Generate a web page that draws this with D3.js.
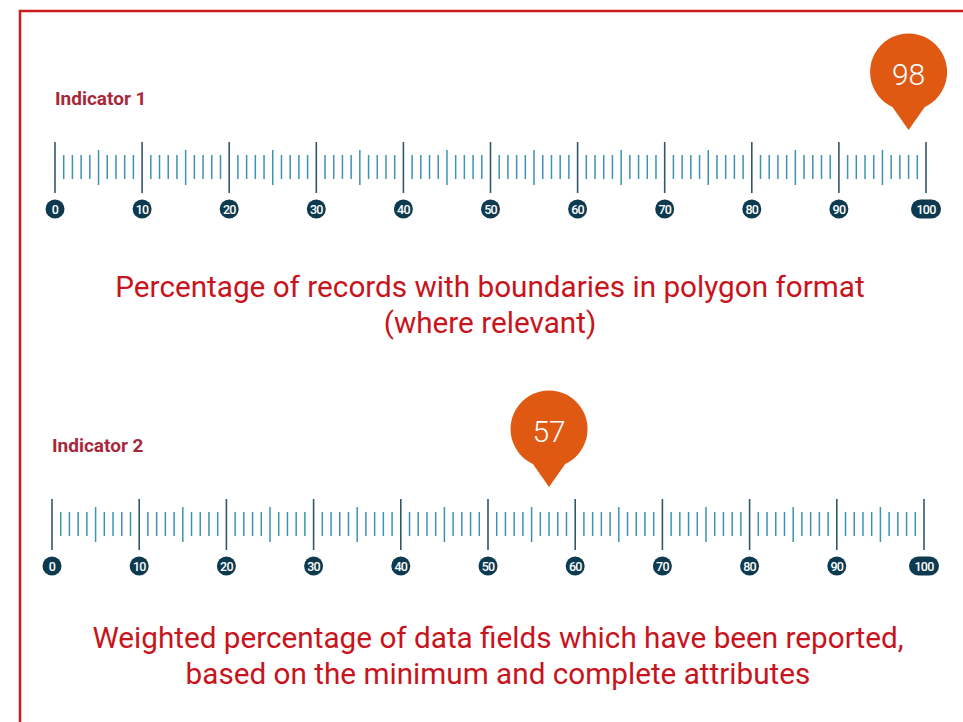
<!DOCTYPE html>
<html>
<head>
<meta charset="utf-8">
<script src="https://cdn.jsdelivr.net/npm/d3@7"></script>
<style>
  body { margin: 0; background: #fff; }
  svg { display: block; font-family: Roboto, "Noto Sans", sans-serif; }
</style>
</head>
<body>
<svg id="chart" width="963" height="722"></svg>
<script>
var indicators = ['Indicator 1', 'Indicator 2'];
var values = [98, 57];
var titles = [
  ['Percentage of records with boundaries in polygon format', '(where relevant)'],
  ['Weighted percentage of data fields which have been reported,', 'based on the minimum and complete attributes']
];
var tickLabels = [0, 10, 20, 30, 40, 50, 60, 70, 80, 90, 100];

var svg = d3.select('#chart');

// frame, runs off right and bottom
svg.append('rect')
  .attr('x', 20).attr('y', 11)
  .attr('width', 1000).attr('height', 800)
  .attr('fill', 'none')
  .attr('stroke', '#cc1a1f')
  .attr('stroke-width', 2.5);

var rows = [
  { x0: 55, x1: 926, top: 142, label: 98, capY: 297, capX: 490 },
  { x0: 52, x1: 924, top: 499, label: 445, capY: 648, capX: 498 }
];

rows.forEach(function(r, i) {
  var x = d3.scaleLinear().domain([0, 100]).range([r.x0, r.x1]);
  var g = svg.append('g');

  g.append('text')
    .attr('x', r.x0).attr('y', r.label + 7)
    .attr('fill', '#a8283a')
    .attr('font-weight', 'bold')
    .attr('font-size', 19)
    .text(indicators[i]);

  // ruler ticks
  var t = r.top;
  g.selectAll('line.tick')
    .data(d3.range(0, 101))
    .enter().append('line')
    .attr('x1', function(d) { return x(d); })
    .attr('x2', function(d) { return x(d); })
    .attr('y1', function(d) { return d % 10 == 0 ? t : (d % 5 == 0 ? t + 8 : t + 13); })
    .attr('y2', function(d) { return d % 10 == 0 ? t + 51 : (d % 5 == 0 ? t + 43 : t + 37); })
    .attr('stroke', function(d) { return d % 10 == 0 ? '#34566a' : '#3b93b6'; })
    .attr('stroke-width', function(d) { return d % 10 == 0 ? 1.6 : 1.5; });

  // tick badges
  var badge = g.selectAll('g.badge')
    .data(tickLabels)
    .enter().append('g')
    .attr('transform', function(d) { return 'translate(' + x(d) + ',' + (t + 67) + ')'; });
  badge.append('rect')
    .attr('x', function(d) { return d == 100 ? -15 : -9.5; })
    .attr('y', -9.5)
    .attr('width', function(d) { return d == 100 ? 30 : 19; })
    .attr('height', 19)
    .attr('rx', 9.5)
    .attr('fill', '#0d3a4e');
  badge.append('text')
    .attr('text-anchor', 'middle')
    .attr('dy', '0.36em')
    .attr('fill', '#fff')
    .attr('font-size', 12.5)
    .attr('font-weight', 500)
    .attr('letter-spacing', -0.8)
    .text(function(d) { return d; });

  // pin marker
  var px = x(values[i]), tip = t - 12, cy = tip - 58, rad = 38.5;
  var a = Math.asin(0.42);
  var pin = g.append('g');
  pin.append('path')
    .attr('d', 'M' + (px - rad * Math.sin(a)) + ',' + (cy + rad * Math.cos(a)) +
      ' A' + rad + ',' + rad + ' 0 1 1 ' + (px + rad * Math.sin(a)) + ',' + (cy + rad * Math.cos(a)) +
      ' L' + px + ',' + tip + ' Z')
    .attr('fill', '#e05913');
  pin.append('text')
    .attr('x', px).attr('y', cy + 2)
    .attr('dy', '0.36em')
    .attr('text-anchor', 'middle')
    .attr('fill', '#fff')
    .attr('font-size', 30)
    .attr('font-weight', 300)
    .text(values[i]);

  // caption
  var cap = g.append('text')
    .attr('text-anchor', 'middle')
    .attr('fill', '#c8141c')
    .attr('font-size', 29.7);
  titles[i].forEach(function(line, j) {
    cap.append('tspan')
      .attr('x', r.capX)
      .attr('y', r.capY + j * 36)
      .text(line);
  });
});
</script>
</body>
</html>
